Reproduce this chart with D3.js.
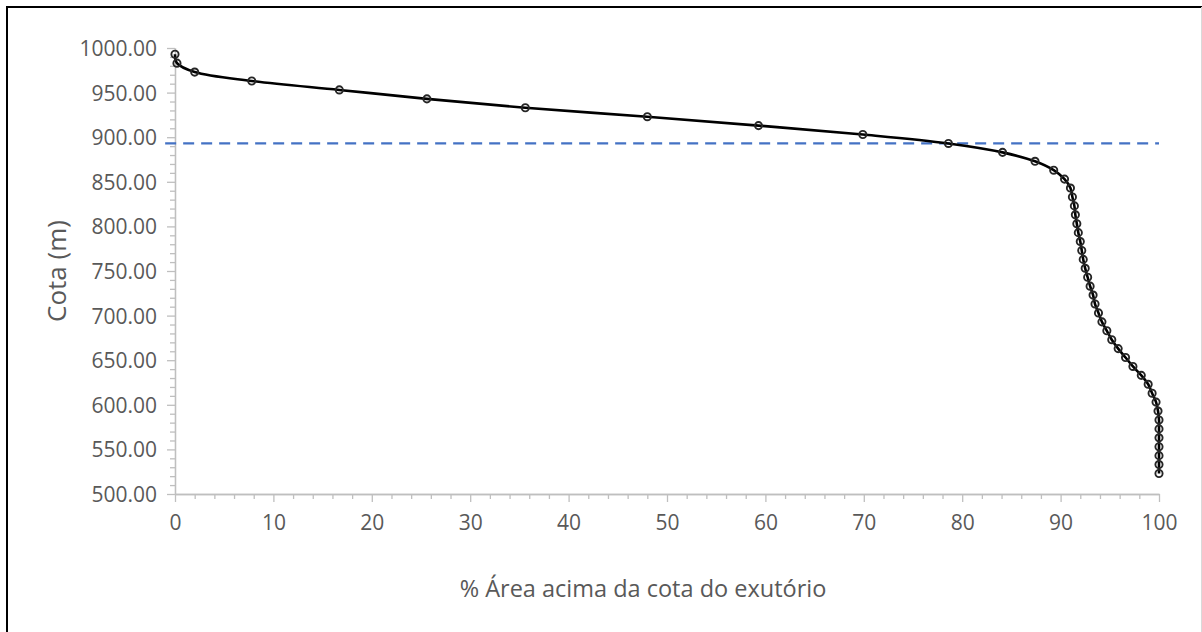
<!DOCTYPE html>
<html>
<head>
<meta charset="utf-8">
<script src="https://cdn.jsdelivr.net/npm/d3@7"></script>
<style>
  html, body { margin: 0; padding: 0; background: #fff; }
  svg { display: block; }
</style>
</head>
<body>
<svg id="chart" width="1202" height="632"></svg>
<script>
// ---- Data ----
const areaPct = [0.0, 0.2, 2.0, 7.8, 16.7, 25.6, 35.6, 48.0, 59.3, 69.9,
  78.6, 84.1, 87.4, 89.3, 90.4, 91.0, 91.2, 91.4, 91.5, 91.65,
  91.8, 92.0, 92.15, 92.3, 92.5, 92.75, 93.0, 93.3, 93.5, 93.85,
  94.2, 94.7, 95.2, 95.85, 96.6, 97.35, 98.2, 98.9, 99.3, 99.7,
  99.9, 100.0, 100.0, 100.0, 100.0, 100.0, 100.0, 100.0];
const cota = [993, 983, 973, 963, 953, 943, 933, 923, 913, 903,
  893, 883, 873, 863, 853, 843, 833, 823, 813, 803,
  793, 783, 773, 763, 753, 743, 733, 723, 713, 703,
  693, 683, 673, 663, 653, 643, 633, 623, 613, 603,
  593, 583, 573, 563, 553, 543, 533, 523];
const outletX = [-1, 100];
const outletCota = [893, 893];
const yTicks = [500, 550, 600, 650, 700, 750, 800, 850, 900, 950, 1000];
const yMinorTicks = [510,520,530,540,560,570,580,590,610,620,630,640,660,670,680,690,710,720,730,740,760,770,780,790,810,820,830,840,860,870,880,890,910,920,930,940,960,970,980,990];
const xTicks = [0, 10, 20, 30, 40, 50, 60, 70, 80, 90, 100];
const xMinorTicks = [2,4,6,8,12,14,16,18,22,24,26,28,32,34,36,38,42,44,46,48,52,54,56,58,62,64,66,68,72,74,76,78,82,84,86,88,92,94,96,98];
const xTitle = "% Área acima da cota do exutório";
const yTitle = "Cota (m)";

// ---- Drawing ----
const svg = d3.select("#chart");
const FONT = "'Open Sans', 'Noto Sans', sans-serif";
const AXIS = "#bfbfbf";
const TEXT = "#595959";

const x = d3.scaleLinear().domain([0, 100]).range([175, 1159]);
const y = d3.scaleLinear().domain([500, 1000]).range([494, 48]);

// frame (chart area border, partially cropped in reference)
svg.append("line").attr("x1", 7).attr("x2", 7).attr("y1", 6).attr("y2", 632)
  .attr("stroke", "#000").attr("stroke-width", 2);
svg.append("line").attr("x1", 6).attr("x2", 1202).attr("y1", 7).attr("y2", 7)
  .attr("stroke", "#000").attr("stroke-width", 2);
svg.append("line").attr("x1", 1201.5).attr("x2", 1201.5).attr("y1", 7).attr("y2", 632)
  .attr("stroke", "#d9d9d9").attr("stroke-width", 1);

// minor ticks
const yMinor = svg.append("g").attr("transform", `translate(${x(0)},0)`)
  .call(d3.axisLeft(y).tickValues(yMinorTicks).tickSize(5).tickSizeOuter(0).tickFormat(""));
const xMinor = svg.append("g").attr("transform", `translate(0,${y(500)})`)
  .call(d3.axisBottom(x).tickValues(xMinorTicks).tickSize(5).tickSizeOuter(0).tickFormat(""));

// major axes
const yAxis = svg.append("g").attr("transform", `translate(${x(0)},0)`)
  .call(d3.axisLeft(y).tickValues(yTicks).tickSize(8).tickSizeOuter(0)
    .tickPadding(10).tickFormat(d3.format(".2f")));
const xAxis = svg.append("g").attr("transform", `translate(0,${y(500)})`)
  .call(d3.axisBottom(x).tickValues(xTicks).tickSize(8).tickSizeOuter(0)
    .tickPadding(8).tickFormat(d3.format("d")));

[yMinor, xMinor, yAxis, xAxis].forEach(g => {
  g.selectAll("path").attr("stroke", AXIS).attr("stroke-width", 1.3);
  g.selectAll("line").attr("stroke", AXIS).attr("stroke-width", 1.3);
  g.selectAll("text").attr("fill", TEXT).style("font-family", FONT).style("font-size", "21px");
});
yAxis.selectAll("text").attr("dy", "0.36em");
xAxis.selectAll("text").attr("dy", "0.95em");

// outlet reference line (dashed blue)
const outlet = outletX.map((v, i) => [v, outletCota[i]]);
svg.append("path").datum(outlet)
  .attr("d", d3.line().x(d => x(d[0])).y(d => y(d[1])))
  .attr("fill", "none").attr("stroke", "#4472c4").attr("stroke-width", 2.2)
  .attr("stroke-dasharray", "11,7");

// hypsometric curve
const pts = areaPct.map((v, i) => [v, cota[i]]);
svg.append("path").datum(pts)
  .attr("d", d3.line().x(d => x(d[0])).y(d => y(d[1])).curve(d3.curveCatmullRom.alpha(0.5)))
  .attr("fill", "none").attr("stroke", "#000").attr("stroke-width", 2.6)
  .attr("stroke-linejoin", "round");

svg.append("g").selectAll("circle").data(pts).join("circle")
  .attr("cx", d => x(d[0])).attr("cy", d => y(d[1])).attr("r", 3.6)
  .attr("fill", "none").attr("stroke", "#262626").attr("stroke-width", 1.9);

// titles
svg.append("text").attr("x", 643).attr("y", 597).attr("text-anchor", "middle")
  .attr("fill", TEXT).style("font-family", FONT).style("font-size", "23.5px").text(xTitle);
svg.append("text").attr("transform", `translate(66,${(y(500)+y(1000))/2}) rotate(-90)`)
  .attr("text-anchor", "middle").attr("fill", TEXT)
  .style("font-family", FONT).style("font-size", "26px").text(yTitle);
</script>
</body>
</html>
